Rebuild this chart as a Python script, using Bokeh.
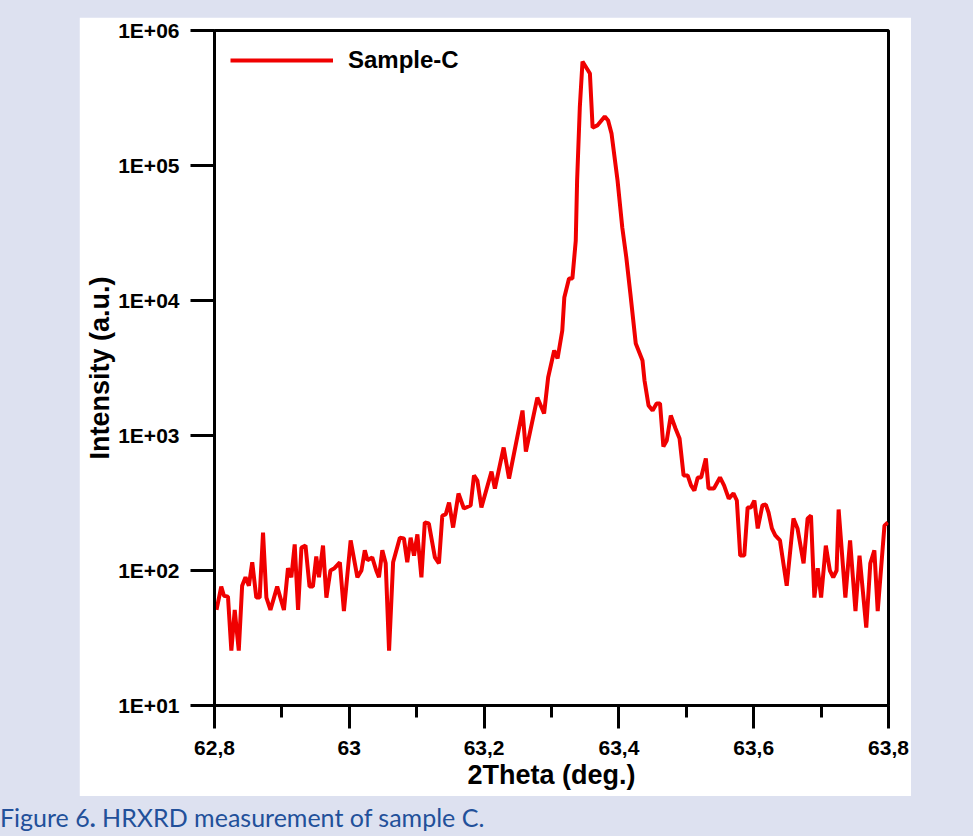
from bokeh.plotting import figure
from bokeh.models import FixedTicker, CustomJSTickFormatter, Div
from bokeh.layouts import column
from bokeh.embed import file_html
from bokeh.resources import INLINE

# ---- data ----
two_theta = [
    62.803, 62.810, 62.814, 62.820, 62.825, 62.830, 62.836, 62.841, 62.846, 62.851,
    62.856, 62.862, 62.867, 62.872, 62.877, 62.883, 62.893, 62.903, 62.909, 62.914,
    62.919, 62.924, 62.929, 62.935, 62.941, 62.946, 62.951, 62.955, 62.961, 62.966,
    62.972, 62.978, 62.986, 62.992, 63.002, 63.012, 63.018, 63.023, 63.027, 63.034,
    63.040, 63.044, 63.049, 63.054, 63.059, 63.065, 63.075, 63.081, 63.086, 63.091,
    63.096, 63.101, 63.107, 63.112, 63.118, 63.127, 63.133, 63.138, 63.143, 63.148,
    63.154, 63.162, 63.170, 63.180, 63.185, 63.190, 63.196, 63.211, 63.216, 63.229,
    63.237, 63.257, 63.262, 63.279, 63.289, 63.295, 63.304, 63.309, 63.316, 63.319,
    63.326, 63.331, 63.336, 63.338, 63.342, 63.346, 63.357, 63.361, 63.368, 63.379,
    63.384, 63.389, 63.398, 63.405, 63.411, 63.417, 63.425, 63.435, 63.438, 63.444,
    63.450, 63.456, 63.461, 63.466, 63.471, 63.477, 63.484, 63.490, 63.496, 63.502,
    63.507, 63.512, 63.517, 63.522, 63.529, 63.533, 63.541, 63.550, 63.556, 63.563,
    63.570, 63.575, 63.580, 63.586, 63.591, 63.596, 63.601, 63.606, 63.613, 63.618,
    63.622, 63.627, 63.632, 63.639, 63.649, 63.659, 63.665, 63.674, 63.680, 63.685,
    63.690, 63.695, 63.700, 63.707, 63.713, 63.718, 63.723, 63.726, 63.736, 63.743,
    63.751, 63.757, 63.767, 63.773, 63.779, 63.784, 63.794, 63.799,
]
intensity = [
    51, 76, 65, 64, 25.5, 51, 25.5, 77, 89, 77,
    115, 63, 63, 191, 63, 51, 76, 51, 104, 89,
    156, 51, 148, 153, 76, 76, 127, 89, 153, 63,
    100, 104, 115, 50, 167, 89, 100, 141, 119, 125,
    100, 89, 141, 113, 25.5, 115, 175, 173, 115, 175,
    129, 185, 89, 227, 223, 125, 113, 255, 260, 319,
    208, 372, 288, 303, 506, 464, 293, 541, 405, 815,
    480, 1531, 760, 1910, 1456, 2690, 4265, 3716, 5995, 10520,
    14550, 14550, 27800, 77400, 269000, 589000, 480000, 191000, 198000, 231000,
    215000, 173000, 77400, 34750, 20840, 11270, 4800, 3594, 2555, 1668,
    1530, 1727, 1727, 829, 919, 1407, 1127, 950, 506, 506,
    427, 391, 489, 489, 676, 405, 405, 489, 427, 341,
    372, 330, 129, 129, 293, 293, 330, 205, 305, 308,
    269, 205, 182, 167, 77, 243, 205, 113, 243, 255,
    63, 104, 63, 153, 100, 89, 100, 283, 63, 167,
    50, 129, 37.8, 113, 141, 50, 215, 227,
]
x_ticks = [62.8, 63.0, 63.2, 63.4, 63.6, 63.8]
x_tick_labels = ["62,8", "63", "63,2", "63,4", "63,6", "63,8"]
x_minor_ticks = [62.9, 63.1, 63.3, 63.5, 63.7]
y_ticks = [1e1, 1e2, 1e3, 1e4, 1e5, 1e6]
y_tick_labels = ["1E+01", "1E+02", "1E+03", "1E+04", "1E+05", "1E+06"]
series_name = "Sample-C"
x_title = "2Theta (deg.)"
y_title = "Intensity (a.u.)"
caption_text = "Figure 6<b>.</b> HRXRD measurement of sample C."

FONT = "Liberation Sans"
PAGE_BG = "#dde1f0"

p = figure(
    width=832, height=779,
    x_range=(62.8, 63.8), y_range=(10, 1e6), y_axis_type="log",
    output_backend="svg", toolbar_location=None,
    min_border_left=135, min_border_right=23, min_border_top=13, min_border_bottom=91,
    margin=(17, 62, 0, 79),
    background_fill_color="white", border_fill_color="white",
)
p.xgrid.visible = False
p.ygrid.visible = False
p.outline_line_color = "black"
p.outline_line_width = 3
p.outline_line_alpha = 1.0

p.line(two_theta, intensity, line_color="#f00000", line_width=4, legend_label=series_name)

fmt_code = """
let best = 0;
for (let i = 0; i < tvals.length; i++) {
  if (Math.abs(Math.log(tvals[i]) - Math.log(tick)) < Math.abs(Math.log(tvals[best]) - Math.log(tick))) best = i;
}
return tlabels[best];
"""

xa = p.xaxis[0]
xa.ticker = FixedTicker(ticks=x_ticks, minor_ticks=x_minor_ticks)
xa.formatter = CustomJSTickFormatter(args=dict(tvals=x_ticks, tlabels=x_tick_labels), code=fmt_code)
ya = p.yaxis[0]
ya.ticker = FixedTicker(ticks=y_ticks, minor_ticks=[])
ya.formatter = CustomJSTickFormatter(args=dict(tvals=y_ticks, tlabels=y_tick_labels), code=fmt_code)

for ax in (xa, ya):
    ax.axis_line_width = 3
    ax.axis_line_color = "black"
    ax.major_tick_line_width = 3
    ax.major_tick_line_color = "black"
    ax.minor_tick_line_width = 3
    ax.minor_tick_line_color = "black"
    ax.major_tick_in = 0
    ax.minor_tick_in = 0
    ax.major_label_text_font = FONT
    ax.major_label_text_font_style = "bold"
    ax.major_label_text_font_size = "21px"
    ax.major_label_text_color = "black"
    ax.axis_label_text_font = FONT
    ax.axis_label_text_font_style = "bold"
    ax.axis_label_text_font_size = "27px"
    ax.axis_label_text_color = "black"

xa.major_tick_out = 23
xa.minor_tick_out = 12
xa.major_label_standoff = 12
xa.axis_label = x_title
xa.axis_label_standoff = 2

ya.major_tick_out = 24
ya.minor_tick_out = 0
ya.major_label_standoff = 11
ya.axis_label = y_title
ya.axis_label_standoff = 0

lg = p.legend[0]
lg.location = "top_left"
lg.border_line_color = None
lg.background_fill_alpha = 0
lg.label_text_font = FONT
lg.label_text_font_style = "bold"
lg.label_text_font_size = "24px"
lg.label_text_color = "black"
lg.glyph_width = 103
lg.glyph_height = 24
lg.label_standoff = 15
lg.margin = 16
lg.padding = 10

caption = Div(
    text=caption_text,
    width=960, height=32,
    margin=(6, 0, 0, 0),
    styles={"font-family": "Lato", "font-size": "25px", "color": "#22509a",
            "white-space": "nowrap", "line-height": "30px"},
)

layout = column(p, caption, width=973, height=836,
                styles={"background-color": PAGE_BG})

open("out.html", "w").write(file_html(layout, INLINE))
